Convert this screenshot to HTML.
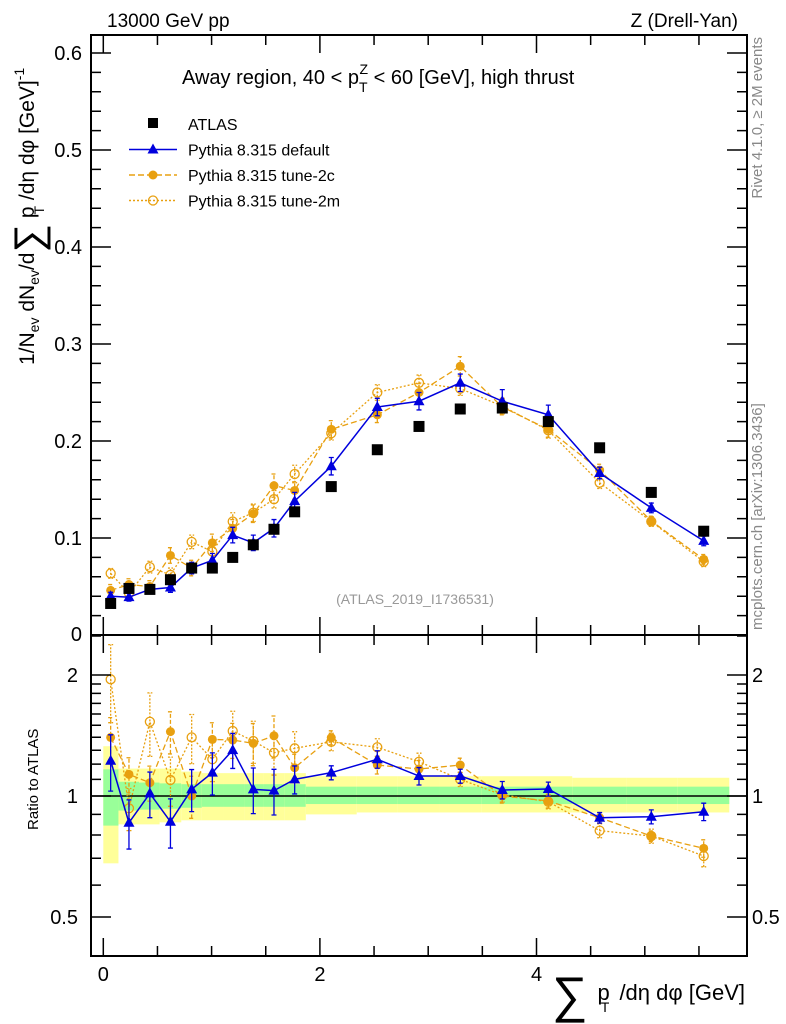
<!DOCTYPE html>
<html><head><meta charset="utf-8"><style>
html,body{margin:0;padding:0;background:#fff;}
svg{display:block;font-family:"Liberation Sans",sans-serif;}
</style></head><body>
<svg id="chart" width="786" height="1024" viewBox="0 0 786 1024" xmlns="http://www.w3.org/2000/svg">
<text x="107" y="27" font-size="19">13000 GeV pp</text>
<text x="738" y="27" font-size="19" text-anchor="end">Z (Drell-Yan)</text>
<text x="182" y="84" font-size="20">Away region, 40 &lt; p<tspan font-size="14" dy="8">T</tspan><tspan font-size="14" dx="-8" dy="-18">Z</tspan><tspan dy="10"> &lt; 60 [GeV], high thrust</tspan></text>
<text transform="translate(762,37) rotate(-90)" font-size="15" fill="#888" text-anchor="end">Rivet 4.1.0, ≥ 2M events</text>
<text transform="translate(762,630) rotate(-90)" font-size="15" fill="#888">mcplots.cern.ch [arXiv:1306.3436]</text>
<text x="415" y="604" font-size="14" fill="#999" text-anchor="middle">(ATLAS_2019_I1736531)</text>
<text transform="translate(34,365) rotate(-90)" font-size="21">1/N<tspan font-size="14" dy="5">ev</tspan><tspan dy="-5"> dN</tspan><tspan font-size="14" dy="5">ev</tspan><tspan dy="-5">/d</tspan><tspan font-size="40" dy="8">∑</tspan><tspan dy="-8"> p</tspan><tspan font-size="14" dy="10" dx="-8">T</tspan><tspan dy="-10"> /dη dφ  [GeV]</tspan><tspan font-size="14" dy="-10">-1</tspan></text>
<text transform="translate(38,830) rotate(-90)" font-size="15">Ratio to ATLAS</text>
<text x="745" y="1000" font-size="22" text-anchor="end"><tspan font-size="50" dy="12">∑</tspan><tspan dy="-12" dx="10">p</tspan><tspan font-size="14" dy="12" dx="-9">T</tspan><tspan dy="-12" dx="4"> /dη dφ [GeV]</tspan></text>
<g id="ratioLayer"></g>
<g id="mainLayer"></g>
<g id="axesLayer"></g>
<g id="legend"></g>
</svg>
<script>
// ---- data ----
const xCenters = [0.068,0.237,0.43,0.62,0.816,1.007,1.195,1.385,1.576,1.767,2.105,2.53,2.915,3.296,3.684,4.109,4.583,5.06,5.544];
const binEdges = [0,0.14,0.33,0.52,0.72,0.91,1.11,1.3,1.48,1.67,1.87,2.34,2.72,3.1,3.49,3.88,4.33,4.83,5.3,5.78];
const atlasVals = [0.0325,0.048,0.047,0.057,0.069,0.069,0.080,0.093,0.109,0.127,0.153,0.191,0.215,0.233,0.234,0.220,0.193,0.147,0.107];
const defaultVals = [0.040,0.039,0.047,0.049,0.069,0.077,0.103,0.095,0.110,0.138,0.174,0.235,0.241,0.260,0.241,0.227,0.167,0.131,0.097];
const tune2cVals = [0.046,0.052,0.050,0.082,0.069,0.095,0.110,0.125,0.154,0.149,0.212,0.227,0.250,0.277,0.235,0.212,0.170,0.1175,0.078];
const tune2mVals = [0.0635,0.043,0.070,0.062,0.096,0.086,0.117,0.126,0.140,0.166,0.208,0.250,0.260,0.254,0.236,0.211,0.157,0.117,0.0755];
const defaultErr = [0.004,0.004,0.004,0.005,0.006,0.007,0.008,0.008,0.009,0.009,0.009,0.009,0.009,0.009,0.012,0.010,0.006,0.005,0.005];
const tune2cErr = [0.006,0.006,0.006,0.008,0.008,0.009,0.009,0.009,0.012,0.009,0.009,0.008,0.009,0.010,0.008,0.008,0.006,0.005,0.005];
const tune2mErr = [0.005,0.006,0.006,0.007,0.007,0.009,0.009,0.009,0.009,0.009,0.007,0.008,0.008,0.007,0.008,0.008,0.006,0.005,0.005];
const defaultRatio = [1.224,0.858,1.015,0.863,1.039,1.143,1.301,1.039,1.031,1.100,1.143,1.234,1.121,1.121,1.035,1.041,0.883,0.888,0.914];
const tune2cRatio = [1.399,1.132,1.079,1.446,1.0,1.383,1.378,1.352,1.412,1.176,1.397,1.194,1.167,1.194,1.0,0.972,0.883,0.795,0.741];
const tune2mRatio = [1.951,0.932,1.53,1.096,1.399,1.234,1.451,1.37,1.281,1.314,1.364,1.322,1.217,1.1,1.006,0.968,0.820,0.795,0.709];
const defaultRatioErr = [0.16,0.14,0.13,0.14,0.12,0.12,0.10,0.13,0.13,0.08,0.04,0.05,0.05,0.04,0.05,0.04,0.03,0.04,0.05];
const tune2cRatioErr = [0.12,0.10,0.10,0.12,0.12,0.10,0.10,0.12,0.12,0.08,0.04,0.05,0.05,0.04,0.04,0.04,0.03,0.03,0.05];
const tune2mRatioErr = [0.22,0.12,0.18,0.14,0.14,0.12,0.12,0.12,0.12,0.10,0.05,0.05,0.05,0.04,0.04,0.04,0.04,0.04,0.06];
const yellowUp = [0.33,0.17,0.17,0.17,0.15,0.14,0.14,0.14,0.14,0.14,0.12,0.12,0.12,0.12,0.12,0.12,0.11,0.11,0.11];
const yellowDn = [0.32,0.15,0.15,0.14,0.13,0.13,0.13,0.13,0.13,0.13,0.10,0.09,0.09,0.09,0.09,0.09,0.09,0.09,0.09];
const greenUp = [0.165,0.085,0.08,0.075,0.07,0.07,0.07,0.07,0.07,0.07,0.055,0.055,0.055,0.055,0.055,0.055,0.055,0.055,0.055];
const greenDn = [0.156,0.08,0.075,0.07,0.065,0.06,0.06,0.06,0.06,0.06,0.045,0.045,0.045,0.045,0.045,0.045,0.045,0.045,0.045];
const mainTicks = [0.1,0.2,0.3,0.4,0.5,0.6];
const mainTickLabels = ["0.1","0.2","0.3","0.4","0.5","0.6"];
const ratioTicks = [0.5,1,2];
const ratioTickLabels = ["0.5","1","2"];
const xTicks = [0,2,4];
const xTickLabels = ["0","2","4"];

// ---- geometry ----
const L=91, R=747, T=35, MB=635, RB=956;
const X = v => 103.3 + v*108.3;
const Y = v => 635 - 970*v;
const YR = r => 796 - 121*Math.log2(r);
const NS="http://www.w3.org/2000/svg";
function mk(parent, tag, attrs){const e=document.createElementNS(NS,tag);for(const k in attrs)e.setAttribute(k,attrs[k]);parent.appendChild(e);return e;}
const main=document.getElementById('mainLayer'), ratio=document.getElementById('ratioLayer'), axes=document.getElementById('axesLayer'), leg=document.getElementById('legend');
const BLUE="#0000dd", OR="#e8a010";

for(let i=0;i<xCenters.length;i++){
  const x0=X(binEdges[i]), x1=X(binEdges[i+1]);
  const yb=mk(ratio,'rect',{x:x0,y:YR(1+yellowUp[i]),width:x1-x0,height:YR(1-yellowDn[i])-YR(1+yellowUp[i]),fill:'#ffff99'});
  
  
  const gb=mk(ratio,'rect',{x:x0,y:YR(1+greenUp[i]),width:x1-x0,height:YR(1-greenDn[i])-YR(1+greenUp[i]),fill:'#99ff99'});
  
  
}
const one=mk(ratio,'line',{x1:L,x2:R,y1:YR(1),y2:YR(1),stroke:'#000','stroke-width':1.5});



function marker(g,type,x,y,color){
  let m;
  if(type==='tri') m=mk(g,'polygon',{points:`${x},${y-6} ${x-5.5},${y+4} ${x+5.5},${y+4}`,fill:color});
  else if(type==='dot') m=mk(g,'circle',{cx:x,cy:y,r:4.5,fill:color});
  else if(type==='open') m=mk(g,'circle',{cx:x,cy:y,r:4.5,fill:'none',stroke:color,'stroke-width':1.3});
  else m=mk(g,'rect',{x:x-5.5,y:y-5.5,width:11,height:11,fill:color});
  return m;
}
function series(layer,name,vals,errs,yf,color,dash,mtype,w){
  const g=mk(layer,'g',{});
  
  
  const pts=vals.map((v,i)=>X(xCenters[i])+','+yf(v)).join(' ');
  const pl=mk(g,'polyline',{points:pts,fill:'none',stroke:color,'stroke-width':w});
  if(dash) pl.setAttribute('stroke-dasharray',dash);
  
  
  vals.forEach((v,i)=>{
    const x=X(xCenters[i]);
    const lo=yf(yf===Y? v-errs[i] : v*(1-errs[i])), hi=yf(yf===Y? v+errs[i] : v*(1+errs[i]));
    const eb=mk(g,'path',{d:`M${x},${lo}V${hi}M${x-2.5},${lo}H${x+2.5}M${x-2.5},${hi}H${x+2.5}`,stroke:color,'stroke-width':1.3,fill:'none'});
    if(dash) eb.setAttribute('stroke-dasharray',dash==='2,2'?'2,1.5':'4,2');
    
    
    const m=marker(g,mtype,x,yf(v),color);
    
    
  });
}
series(ratio,'ratio-tune-2m',tune2mRatio,tune2mRatioErr,YR,OR,'2,2','open',1.3);
series(ratio,'ratio-tune-2c',tune2cRatio,tune2cRatioErr,YR,OR,'6,3','dot',1.3);
series(ratio,'ratio-default',defaultRatio,defaultRatioErr,YR,BLUE,null,'tri',1.5);

series(main,'tune-2m-series',tune2mVals,tune2mErr,Y,OR,'2,2','open',1.3);
series(main,'tune-2c-series',tune2cVals,tune2cErr,Y,OR,'6,3','dot',1.3);
series(main,'default-series',defaultVals,defaultErr,Y,BLUE,null,'tri',1.5);
(function(){const g=mk(main,'g',{});


atlasVals.forEach((v,i)=>{const m=marker(g,'sq',X(xCenters[i]),Y(v),'#000');

});})();

const f1=mk(axes,'rect',{x:L,y:T,width:R-L,height:MB-T,fill:'none',stroke:'#000','stroke-width':2});


const f2=mk(axes,'rect',{x:L,y:MB,width:R-L,height:RB-MB,fill:'none',stroke:'#000','stroke-width':2});


let d='';
for(let v=0;v<=5.9;v+=0.5){const x=X(v);const major=Math.abs(v%2)<1e-6;const len=major?18:10;
  d+=`M${x},${MB}v${-len}M${x},${T}v${len}M${x},${RB}v${-len}M${x},${MB}v${len}`;}
for(let k=1;k<=30;k++){const v=k*0.02;const y=Y(v);if(y<T)break;const major=k%5===0;const len=major?20:10;
  d+=`M${L},${y}h${len}M${R},${y}h${-len}`;}
const rMinor=[0.4,0.5,0.6,0.7,0.8,0.9,1,1.1,1.2,1.3,1.4,1.5,1.6,1.7,1.8,1.9,2,2.5];
rMinor.forEach(r=>{const y=YR(r);if(y<=MB||y>=RB)return;const major=ratioTicks.includes(r);const len=major?20:10;
  d+=`M${L},${y}h${len}M${R},${y}h${-len}`;});
const tk=mk(axes,'path',{d:d,stroke:'#000','stroke-width':1.5,fill:'none'});


mainTicks.forEach((v,i)=>{const t=mk(axes,'text',{x:82,y:Y(v)+7,'font-size':20,'text-anchor':'end'});t.textContent=mainTickLabels[i];

});
const z=mk(axes,'text',{x:82,y:641,'font-size':20,'text-anchor':'end'});z.textContent='0';


ratioTicks.forEach((v,i)=>{[[78,'end'],[752,'start']].forEach(p=>{const t=mk(axes,'text',{x:p[0],y:YR(v)+7,'font-size':20,'text-anchor':p[1]});t.textContent=ratioTickLabels[i];

});});
xTicks.forEach((v,i)=>{const t=mk(axes,'text',{x:X(v),y:981,'font-size':20,'text-anchor':'middle'});t.textContent=xTickLabels[i];

});

const entries=[['ATLAS','#000',null,'sq'],['Pythia 8.315 default',BLUE,'','tri'],['Pythia 8.315 tune-2c',OR,'6,3','dot'],['Pythia 8.315 tune-2m',OR,'2,2','open']];
entries.forEach((e,i)=>{const y=124+i*25.5;const g=mk(leg,'g',{});
  
  
  if(i>0){const l=mk(g,'line',{x1:129,x2:177,y1:y,y2:y,stroke:e[1],'stroke-width':1.4});if(e[2])l.setAttribute('stroke-dasharray',e[2]);}
  const m=marker(g,e[3],153,y,e[1]);if(e[3]==='sq'){m.setAttribute('width',10);m.setAttribute('height',10);m.setAttribute('x',148);m.setAttribute('y',y-6);}
  const t=mk(g,'text',{x:188,y:y+6,'font-size':16});t.textContent=e[0];});
</script>
</body></html>
